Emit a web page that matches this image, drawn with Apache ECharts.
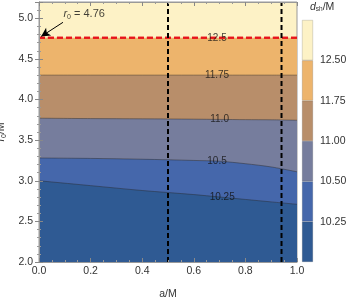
<!DOCTYPE html>
<html><head><meta charset="utf-8">
<script src="https://cdn.jsdelivr.net/npm/echarts@6/dist/echarts.min.js"></script>
<style>html,body{margin:0;padding:0;background:#fff}#c{width:347px;height:300px}</style>
</head><body><div id="c"></div>
<script>
// contour boundaries r0/M as function of a/M
const aGrid = [0, 0.2, 0.4, 0.6, 0.7, 0.8, 0.9, 1.0];
const levels = [12.5, 11.75, 11.0, 10.5, 10.25];
const r_125  = [4.76, 4.76, 4.76, 4.76, 4.76, 4.76, 4.76, 4.76];
const r_1175 = [4.30, 4.30, 4.30, 4.30, 4.30, 4.30, 4.30, 4.30];
const r_110  = [3.77, 3.765, 3.762, 3.758, 3.755, 3.752, 3.75, 3.745];
const r_105  = [3.28, 3.275, 3.265, 3.25, 3.24, 3.21, 3.17, 3.11];
const r_1025 = [3.00, 2.94, 2.88, 2.83, 2.80, 2.77, 2.74, 2.71];
const bandColors = ['#EDB46C', '#B88E6A', '#767D9D', '#4567AB', '#2F5A93'];
const topColor = '#FDF2C6';
const labelPos = [[0.69, 4.76], [0.69, 4.30], [0.70, 3.762], [0.69, 3.245], [0.71, 2.80]];
const labelText = ['12.5', '11.75', '11.0', '10.5', '10.25'];
const vLines = [0.5, 0.94];
const r0 = 4.76;
const cbTicks = ['10.25', '10.50', '11.00', '11.75', '12.50'];
const cbColors = ['#2F5A93', '#4567AB', '#767D9D', '#B88E6A', '#EDB46C', topColor];

const boundaries = [r_125, r_1175, r_110, r_105, r_1025];
const chart = echarts.init(document.getElementById('c'));
const font = 'Liberation Sans, Arial, sans-serif';
const series = boundaries.map((arr, i) => ({
  type: 'line', xAxisIndex: 0, yAxisIndex: 0,
  data: aGrid.map((a, j) => [a, arr[j]]),
  smooth: 0.3, symbol: 'none', silent: true,
  lineStyle: i === 0 ? {color: '#e8141b', width: 2, type: [6, 3]} : {color: 'rgba(40,40,40,0.45)', width: 1},
  areaStyle: {color: bandColors[i], opacity: 1, origin: 'start'},
  z: 2 + i
}));
// dashed red line redrawn on top
series.push({
  type: 'line', xAxisIndex: 0, yAxisIndex: 0, symbol: 'none', silent: true,
  data: [[0, r0], [1, r0]], lineStyle: {color: '#e8141b', width: 2, type: [6, 3]}, z: 10
});
// vertical dashed lines
vLines.forEach(v => series.push({
  type: 'line', xAxisIndex: 0, yAxisIndex: 0, symbol: 'none', silent: true,
  data: [[v, 2], [v, 5.2]], lineStyle: {color: '#000', width: 2, type: [5, 3]}, z: 11
}));
// contour labels
series.push({
  type: 'scatter', xAxisIndex: 0, yAxisIndex: 0, symbolSize: 0, silent: true, z: 12,
  data: labelPos.map((p, i) => ({value: p, name: labelText[i]})),
  label: {show: true, position: 'inside', formatter: p => p.name, color: '#111', fontSize: 10, fontFamily: font}
});
// annotation arrow + text
series.push({
  type: 'line', xAxisIndex: 0, yAxisIndex: 0, symbol: 'none', silent: true, data: [], z: 13,
  markLine: {silent: true, symbol: ['none', 'arrow'], symbolSize: [7, 9], label: {show: false},
    lineStyle: {color: '#000', width: 1, type: 'solid'},
    data: [[{coord: [0.093, 4.95]}, {coord: [0.008, 4.775]}]]}
});
series.push({
  type: 'scatter', xAxisIndex: 0, yAxisIndex: 0, symbolSize: 0, silent: true, z: 13,
  data: [{value: [0.175, 5.055], name: 'r0'}],
  label: {show: true, position: 'inside', fontFamily: font, color: '#111',
    formatter: '{i|r}{s|0}{n| = ' + r0.toFixed(2) + '}',
    rich: {i: {fontStyle: 'italic', fontSize: 11, fontFamily: font, color: '#111'},
           s: {fontSize: 7, verticalAlign: 'bottom', fontFamily: font, color: '#111', padding: [6, 0, 0, 0]},
           n: {fontSize: 11, fontFamily: font, color: '#111'}}}
});
// colorbar
cbColors.forEach((c, i) => {
  series.push({type: 'bar', xAxisIndex: 2, yAxisIndex: 2, stack: 'cb', data: [1], barWidth: '100%',
    silent: true, itemStyle: {color: c, borderColor: 'rgba(60,60,60,0.35)', borderWidth: 0.5}});
});

const axisLab = {color: '#333', fontSize: 10.5, fontFamily: font};
chart.setOption({
  animation: false,
  grid: [
    {left: 39, right: 50, top: 2, bottom: 38, show: true, backgroundColor: topColor, borderColor: '#999', borderWidth: 1, z: 0,
     containLabel: false, outerBoundsMode: 'none'},
    {left: 302, width: 11, top: 20, bottom: 38, containLabel: false, outerBoundsMode: 'none'}
  ],
  xAxis: [
    {type: 'value', gridIndex: 0, min: 0, max: 1, interval: 0.2, position: 'bottom',
     name: 'a/M', nameLocation: 'middle', nameGap: 27, nameTextStyle: {fontSize: 10.5, color: '#333', fontFamily: font},
     axisLine: {show: true, lineStyle: {color: '#999'}}, axisTick: {inside: true, length: 4, lineStyle: {color: '#888'}},
     minorTick: {show: true, splitNumber: 4, length: 2, lineStyle: {color: '#999'}},
     axisLabel: Object.assign({formatter: v => v.toFixed(1), margin: 4}, axisLab), splitLine: {show: false}, z: 20},
    {type: 'value', gridIndex: 0, min: 0, max: 1, interval: 0.2, position: 'top',
     axisLine: {show: true, lineStyle: {color: '#999'}}, axisTick: {inside: true, length: 4, lineStyle: {color: '#888'}},
     minorTick: {show: true, splitNumber: 4, length: 2, lineStyle: {color: '#999'}},
     axisLabel: {show: false}, splitLine: {show: false}, z: 20},
    {type: 'category', gridIndex: 1, data: ['c'], show: false}
  ],
  yAxis: [
    {type: 'value', gridIndex: 0, min: 2, max: 5.2, interval: 0.5, position: 'left',
     name: '{i|r}{s|0}{n|/M}', nameLocation: 'middle', nameGap: 27, nameRotate: 90,
     nameTextStyle: {rich: {i: {fontStyle: 'italic', fontSize: 11, fontFamily: font, color: '#333'},
       s: {fontSize: 7, fontFamily: font, color: '#333', padding: [6, 0, 0, 0]},
       n: {fontSize: 10.5, fontFamily: font, color: '#333'}}},
     axisLine: {show: true, lineStyle: {color: '#999'}}, axisTick: {inside: true, length: 4, lineStyle: {color: '#888'}},
     minorTick: {show: true, splitNumber: 5, length: 2, lineStyle: {color: '#999'}},
     axisLabel: Object.assign({formatter: v => v.toFixed(1), margin: 6, showMaxLabel: false}, axisLab), splitLine: {show: false}, z: 20},
    {type: 'value', gridIndex: 0, min: 2, max: 5.2, interval: 0.5, position: 'right',
     axisLine: {show: true, lineStyle: {color: '#999'}}, axisTick: {inside: true, length: 4, lineStyle: {color: '#888'}},
     minorTick: {show: true, splitNumber: 5, length: 2, lineStyle: {color: '#999'}},
     axisLabel: {show: false}, splitLine: {show: false}, z: 20},
    {type: 'value', gridIndex: 1, min: 0, max: 6, interval: 1, position: 'right',
     name: '{i|d}{s|sh}{n|/M}', nameGap: 7, nameLocation: 'end',
     nameTextStyle: {align: 'left', padding: [0, 0, 0, -3], rich: {i: {fontStyle: 'italic', fontSize: 10.5, fontFamily: font, color: '#333'},
       s: {fontSize: 6.5, fontFamily: font, color: '#333', padding: [5, 0, 0, 0]},
       n: {fontSize: 10.5, fontFamily: font, color: '#333'}}},
     axisLine: {show: false}, axisTick: {show: false}, splitLine: {show: false},
     axisLabel: Object.assign({margin: 7, formatter: (v) => (v >= 1 && v <= 5) ? cbTicks[v - 1] : ''}, axisLab)}
  ],
  series: series
});
</script></body></html>
